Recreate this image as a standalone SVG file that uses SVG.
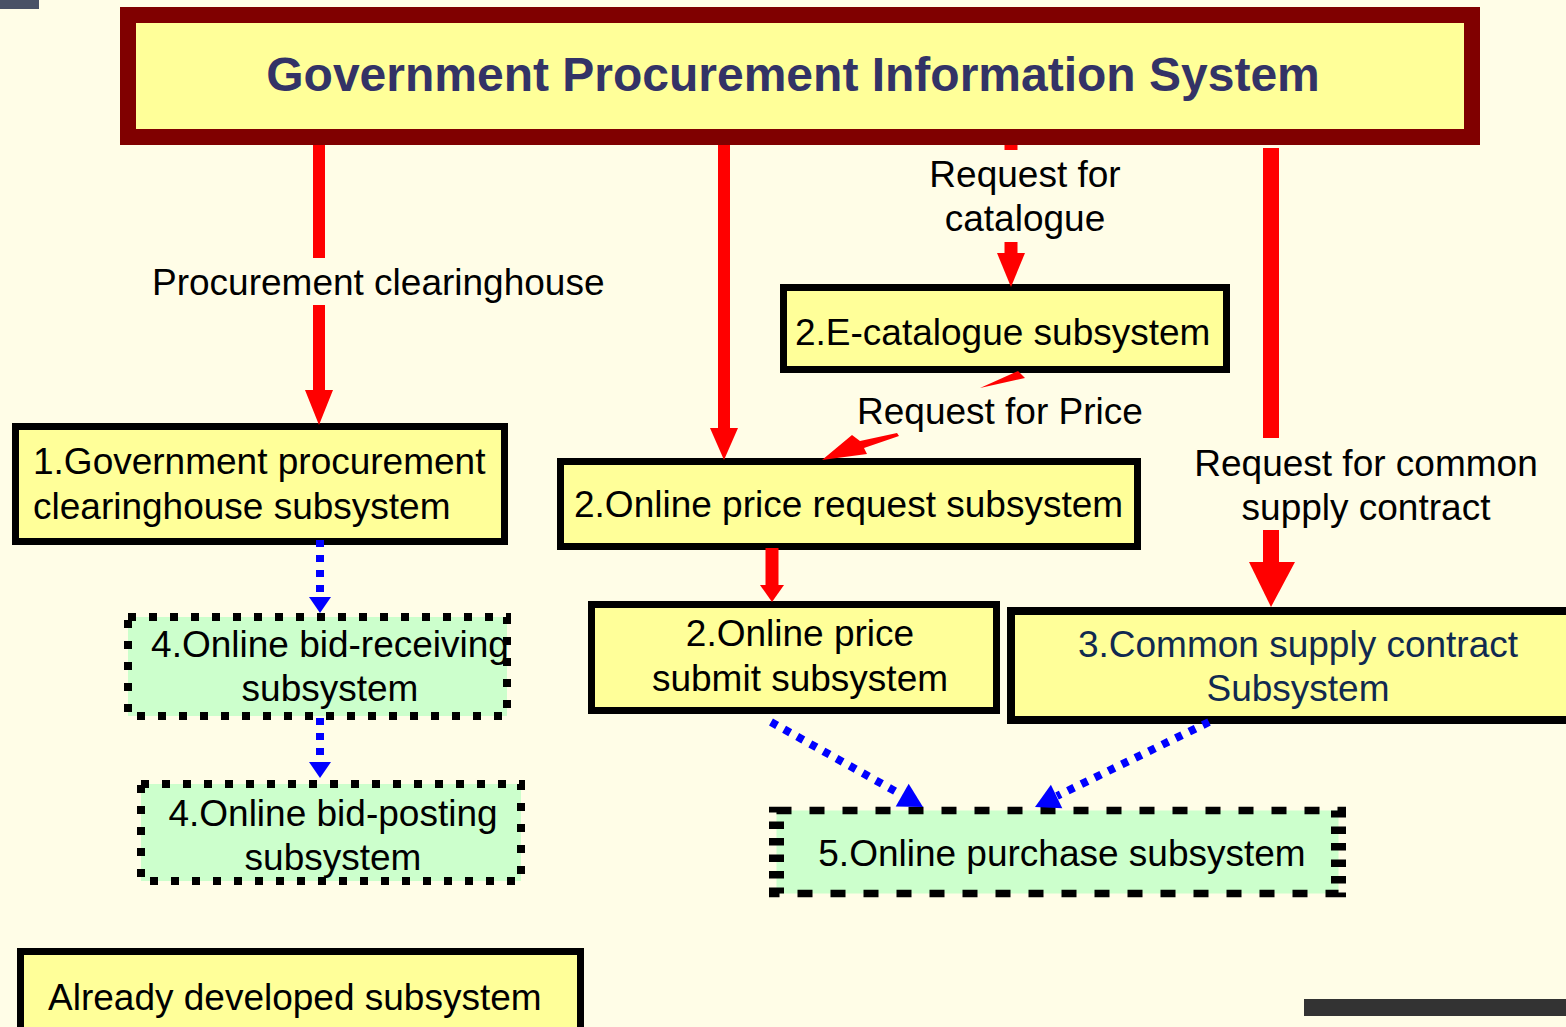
<svg xmlns="http://www.w3.org/2000/svg" width="1566" height="1027" viewBox="0 0 1566 1027">
<style>
text{font-family:"Liberation Sans",Arial,sans-serif;font-size:37px;fill:#000}
.ttl{font-size:48px;font-weight:bold;fill:#333366}
.navy{fill:#102A50}
.yb{fill:#FFFF99;stroke:#000;stroke-width:7}
.gb{fill:#CCFFCC;stroke:#000;stroke-width:8;stroke-dasharray:8 13}
.red{fill:#FF0000}
.rl{stroke:#FF0000;fill:none}
.bl{stroke:#0000FF;stroke-width:8;stroke-dasharray:7 8;fill:none}
.bh{fill:#0000FF}
</style>
<rect width="1566" height="1027" fill="#FFFDE7"/>
<rect x="0" y="0" width="39" height="9" fill="#4A5266"/>
<rect x="1304" y="999" width="262" height="17" fill="#333333"/>

<g id="title">
<rect x="128" y="15" width="1344" height="122" fill="#FFFF99" stroke="#800000" stroke-width="16"/>
<text class="ttl" x="793" y="91" text-anchor="middle">Government Procurement Information System</text>
</g>

<g id="n1">
<rect class="yb" x="15.5" y="426.5" width="489" height="115"/>
<text x="33" y="474">1.Government procurement</text>
<text x="33" y="519">clearinghouse subsystem</text>
</g>

<g id="n2cat">
<rect class="yb" x="783.5" y="287.5" width="443" height="82"/>
<text x="795" y="345">2.E-catalogue subsystem</text>
</g>

<g id="n2req">
<rect class="yb" x="560.5" y="461.5" width="577" height="85"/>
<text x="574" y="517">2.Online price request subsystem</text>
</g>

<g id="n2sub">
<rect class="yb" x="591.5" y="604.5" width="405" height="106"/>
<text x="800" y="646" text-anchor="middle">2.Online price</text>
<text x="800" y="691" text-anchor="middle">submit subsystem</text>
</g>

<g id="n3">
<rect class="yb" x="1011" y="611" width="580" height="109" style="stroke-width:8"/>
<text class="navy" x="1298" y="657" text-anchor="middle">3.Common supply contract</text>
<text class="navy" x="1298" y="701" text-anchor="middle">Subsystem</text>
</g>

<g id="n4recv">
<rect class="gb" x="128" y="617" width="379" height="99"/>
<text x="330" y="657" text-anchor="middle">4.Online bid-receiving</text>
<text x="330" y="701" text-anchor="middle">subsystem</text>
</g>

<g id="n4post">
<rect class="gb" x="141" y="784" width="380" height="97"/>
<text x="333" y="826" text-anchor="middle">4.Online bid-posting</text>
<text x="333" y="870" text-anchor="middle">subsystem</text>
</g>

<g id="n5">
<rect class="gb" transform="scale(2 1)" x="388.25" y="810.5" width="281" height="83" style="stroke-width:7.5;stroke-dasharray:7.5 9"/>
<text x="1062" y="866" text-anchor="middle">5.Online purchase subsystem</text>
</g>

<g id="legend">
<rect class="yb" x="20.5" y="951.5" width="560" height="90"/>
<text x="48" y="1010">Already developed subsystem</text>
</g>

<g id="connectors">
<!-- 1: clearinghouse -->
<line class="rl" x1="319" y1="145" x2="319" y2="258" stroke-width="12"/>
<line class="rl" x1="319" y1="305" x2="319" y2="392" stroke-width="12"/>
<polygon class="red" points="305,390 333,390 319,425"/>
<text x="152" y="295">Procurement clearinghouse</text>
<!-- 2: to online price request -->
<line class="rl" x1="724" y1="145" x2="724" y2="430" stroke-width="12"/>
<polygon class="red" points="710,428 738,428 724,460"/>
<!-- 3: catalogue -->
<line class="rl" x1="1011" y1="145" x2="1011" y2="150" stroke-width="13"/>
<line class="rl" x1="1011" y1="242" x2="1011" y2="255" stroke-width="13"/>
<polygon class="red" points="997,253 1025,253 1011,287"/>
<text x="1025" y="187" text-anchor="middle">Request for</text>
<text x="1025" y="231" text-anchor="middle">catalogue</text>
<!-- 4: common supply -->
<line class="rl" x1="1271" y1="148" x2="1271" y2="438" stroke-width="16"/>
<line class="rl" x1="1271" y1="530" x2="1271" y2="565" stroke-width="16"/>
<polygon class="red" points="1249,562 1295,562 1271,607"/>
<text x="1366" y="476" text-anchor="middle">Request for common</text>
<text x="1366" y="520" text-anchor="middle">supply contract</text>
<!-- 5: request for price (diagonal) -->
<polygon class="red" points="1018,371 1025,378 980,388"/>
<polygon class="red" points="897,433 860,441 852,435 822,460 867,454 864,448 899,436"/>
<text x="857" y="424">Request for Price</text>
<!-- 6: request to submit -->
<line class="rl" x1="772" y1="548" x2="772" y2="587" stroke-width="13"/>
<polygon class="red" points="760,585 784,585 772,602"/>
<!-- blue dotted -->
<line class="bl" x1="320" y1="540" x2="320" y2="598"/>
<polygon class="bh" points="309,597 331,597 320,613"/>
<line class="bl" x1="320" y1="718" x2="320" y2="763"/>
<polygon class="bh" points="309,762 331,762 320,778"/>
<line class="bl" x1="771" y1="722" x2="902" y2="795"/>
<polygon class="bh" points="895.7,806.4 908.7,783.8 923,807"/>
<line class="bl" x1="1209" y1="722" x2="1057" y2="796"/>
<polygon class="bh" points="1050.9,784.8 1062.3,808.2 1035,807"/>
</g>
</svg>
